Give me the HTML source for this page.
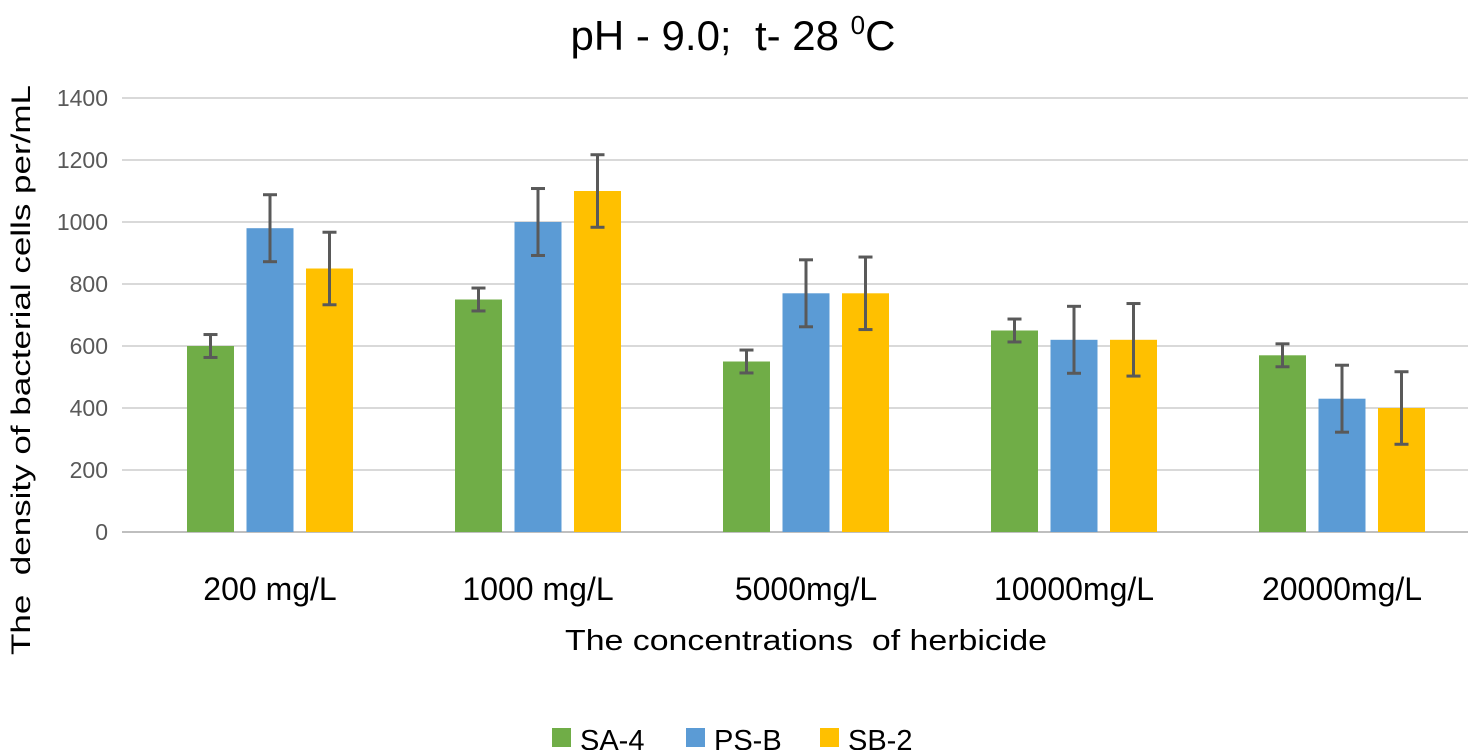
<!DOCTYPE html>
<html><head><meta charset="utf-8"><style>
body{margin:0;background:#fff;}
svg{display:block;font-family:"Liberation Sans",sans-serif;}
text{white-space:pre;}
</style></head><body>
<svg id="chart" width="1479" height="750">
<text x="733" y="50" font-size="42" text-anchor="middle" fill="#000">pH - 9.0;  t- 28 <tspan font-size="26" dy="-16">0</tspan><tspan dy="16">C</tspan></text>
<g id="grid"></g><g id="bars"></g><g id="errs"></g><g id="labels"></g>
<text transform="translate(30,370) rotate(-90)" font-size="27" text-anchor="middle" textLength="570" lengthAdjust="spacingAndGlyphs">The  density of bacterial cells per/mL</text>
<text x="806" y="650" font-size="29" text-anchor="middle" textLength="482" lengthAdjust="spacingAndGlyphs">The concentrations  of herbicide</text>
<g id="legend"></g>
</svg>
<script>
const categories=["200 mg/L","1000 mg/L","5000mg/L","10000mg/L","20000mg/L"];
const seriesNames=["SA-4","PS-B","SB-2"];
const sa4=[600,750,550,650,570];
const psb=[980,1000,770,620,430];
const sb2=[850,1100,770,620,400];
const sa4Err=[37,37,37,37,37];
const psbErr=[108,108,108,108,108];
const sb2Err=[117,117,117,117,117];
const yTicks=[0,200,400,600,800,1000,1200,1400];
const colors=["#70ad47","#5b9bd5","#ffc000"];
const NS="http://www.w3.org/2000/svg";
function y(v){return 532-v*(434/1400);}
function catX(i){return 270+i*268;}
function mk(t,a,p){const e=document.createElementNS(NS,t);for(const k in a)e.setAttribute(k,a[k]);p.appendChild(e);return e;}
const grid=document.getElementById('grid');
yTicks.forEach(t=>{
 const l=mk('line',{x1:122,x2:1468,y1:y(t),y2:y(t),stroke:t===0?'#bfbfbf':'#d9d9d9','stroke-width':2},grid);
 
 
 const tx=mk('text',{x:108,y:y(t)+8,'font-size':23,'text-anchor':'end',fill:'#595959'},grid);
 tx.textContent=t;
 
 
});
const series=[sa4,psb,sb2], errs=[sa4Err,psbErr,sb2Err];
const bars=document.getElementById('bars'), eg=document.getElementById('errs'), lg=document.getElementById('labels');
categories.forEach((c,i)=>{
 series.forEach((s,j)=>{
  const cx=catX(i)+(j-1)*59.5;
  const r=mk('rect',{x:cx-23.5,y:y(s[i]),width:47,height:532-y(s[i]),fill:colors[j]},bars);
  
  
  const hi=y(s[i]+errs[j][i]), lo=y(s[i]-errs[j][i]);
  const g=mk('g',{stroke:'#595959','stroke-width':3},eg);
  
  
  mk('line',{x1:cx,x2:cx,y1:hi,y2:lo},g);
  mk('line',{x1:cx-7,x2:cx+7,y1:hi,y2:hi},g);
  mk('line',{x1:cx-7,x2:cx+7,y1:lo,y2:lo},g);
 });
 const t=mk('text',{x:catX(i),y:600,'font-size':32,'text-anchor':'middle',fill:'#000'},lg);
 t.textContent=c;
 
 
});
const leg=document.getElementById('legend');
const lx=[552,686,820];
seriesNames.forEach((n,j)=>{
 const g=mk('g',{},leg);
 
 
 mk('rect',{x:lx[j],y:728,width:19,height:19,fill:colors[j]},g);
 const t=mk('text',{x:lx[j]+28,y:750,'font-size':29,fill:'#000'},g);
 t.textContent=n;
});
</script>
</body></html>
